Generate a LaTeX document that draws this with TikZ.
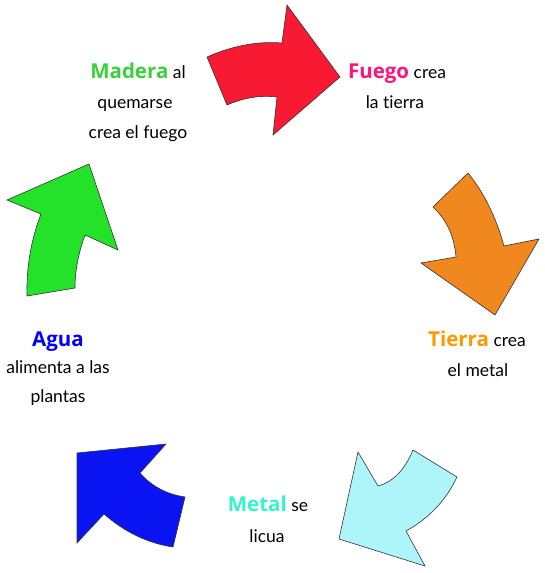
\documentclass[tikz,border=0pt]{standalone}
\usepackage{fontspec}
\setmainfont[Ligatures={NoCommon,NoRare,NoDiscretionary}]{Lato}
\newfontfamily\headfont{Open Sans}
\newcommand\hwfont{\headfont\fontsize{20.5}{22}\selectfont\bfseries}
\definecolor{redA}{HTML}{F71A32}
\definecolor{orangeA}{HTML}{F0871F}
\definecolor{cyanA}{HTML}{AEF5FA}
\definecolor{blueA}{HTML}{0A14F2}
\definecolor{greenA}{HTML}{24E22A}
\definecolor{tMadera}{HTML}{3AD13A}
\definecolor{tFuego}{HTML}{FF1478}
\definecolor{tTierra}{HTML}{FF9900}
\definecolor{tMetal}{HTML}{33F5CC}
\definecolor{tAgua}{HTML}{0000FF}
\begin{document}
\begin{tikzpicture}[x=1pt,y=-1pt,
  arrowshape/.style={draw=black!80, line width=0.6pt, line join=miter},
  lbl/.style={anchor=base, inner sep=0pt, font=\fontsize{17.5}{20}\selectfont}]
\useasboundingbox[fill=white] (0,0) rectangle (544,573);
% red arrow
\fill[redA,arrowshape] (207,57) .. controls (232.7,45.7) and (257.7,41) .. (282,43) -- (287,5) -- (340,77) -- (273,135) -- (277,97) .. controls (260.3,95) and (243.7,97.7) .. (227,105) -- cycle;
% orange arrow
\fill[orangeA,arrowshape] (433,207) -- (468,173) .. controls (484,192.7) and (496,217) .. (504,246) -- (539,239) -- (495,315) -- (421,263) -- (456,257) .. controls (454.3,236.3) and (446.7,219.7) .. cycle;
% cyan arrow
\fill[cyanA,arrowshape] (413,450) -- (457,477) .. controls (446,500.3) and (429,518.3) .. (406,531) -- (425,566) -- (339,539) -- (358,452) -- (378,486) .. controls (393,482) and (404.7,470) .. cycle;
% blue arrow
\fill[blueA,arrowshape] (166,444) -- (77,453) -- (77,543) -- (104,514) .. controls (125,532.3) and (148,543.3) .. (173,547) -- (185,497) .. controls (166.7,494.3) and (151.7,486.3) .. (140,473) -- cycle;
% green arrow
\fill[greenA,arrowshape] (27,296) -- (75,288) .. controls (75,271) and (78.3,253.3) .. (85,235) -- (118,250) -- (89,164) -- (7,200) -- (41,214) .. controls (31,240) and (26.3,267.3) .. cycle;
% texts
\node[lbl] (m1) at (138,78) {{\hwfont\color{tMadera}Madera} al};
\node[lbl] (m2) at (135,108) {quemarse};
\node[lbl] (m3) at (138,138) {crea el fuego};
\node[lbl] (f1) at (397,78) {{\hwfont\color{tFuego}Fuego} crea};
\node[lbl] (f2) at (395,108) {la tierra};
\node[lbl] (t1) at (477,346) {{\hwfont\color{tTierra}Tierra} crea};
\node[lbl] (t2) at (478,376) {el metal};
\node[lbl] (e1) at (268,511) {{\hwfont\color{tMetal}Metal} se};
\node[lbl] (e2) at (267,542) {licua};
\node[lbl] (a1) at (58,346) {{\hwfont\color{tAgua}Agua}};
\node[lbl] (a2) at (58,373) {alimenta a las};
\node[lbl] (a3) at (58,402) {plantas};
\end{tikzpicture}
\end{document}
